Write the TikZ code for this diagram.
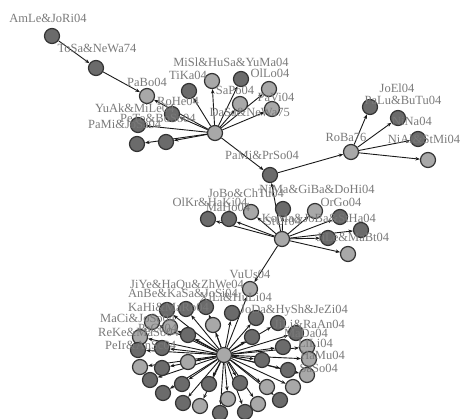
\documentclass[tikz,border=0pt]{standalone}
\usepackage{fontspec}
\setmainfont{Liberation Serif}
\usetikzlibrary{arrows.meta,backgrounds}
\definecolor{ndark}{gray}{0.42}
\definecolor{nlight}{gray}{0.66}
\definecolor{labc}{gray}{0.48}
\tikzset{
 nd/.style={circle,draw=black!80,line width=1.2pt,fill=ndark,minimum size=15pt,inner sep=0pt},
 nl/.style={nd,fill=nlight},
 lab/.style={text=labc,font=\fontsize{12.5}{13}\selectfont,inner sep=0pt},
 ed/.style={draw=black!90,line width=0.9pt,-{Stealth[length=4.5pt,width=3.5pt]}},
}
\begin{document}
\begin{tikzpicture}[x=1pt,y=-1pt]
\useasboundingbox (0,0) rectangle (469,419);
% ---- upper cluster
\node[nd] (a1) at (52,36) {};
\node[nd] (a2) at (96,68) {};
\node[nl] (a3) at (147,96) {};
\node[nl] (h1) at (215,133) {};
\node[nd] (t1) at (189,91) {};
\node[nl] (t2) at (212,81) {};
\node[nd] (t3) at (241,79) {};
\node[nl] (t4) at (240,104) {};
\node[nl] (t5) at (269,89) {};
\node[nl] (t6) at (272,109) {};
\node[nd] (t7) at (172,114) {};
\node[nd] (t8) at (138,125) {};
\node[nd] (t9) at (137,144) {};
\node[nd] (t10) at (166,142) {};
\node[nd] (p) at (270,175) {};
% ---- right cluster
\node[nl] (r) at (351,152) {};
\node[nd] (r1) at (370,107) {};
\node[nd] (r2) at (398,118) {};
\node[nd] (r3) at (418,139) {};
\node[nl] (r4) at (428,160) {};
% ---- middle cluster
\node[nl] (h2) at (282,239) {};
\node[nd] (s1) at (208,219) {};
\node[nd] (s2) at (229,219) {};
\node[nl] (s3) at (251,212) {};
\node[nd] (s4) at (283,209) {};
\node[nl] (s5) at (315,211) {};
\node[nd] (s6) at (340,217) {};
\node[nd] (s7) at (328,238) {};
\node[nd] (s8) at (361,230) {};
\node[nl] (s9) at (348,254) {};
\node[nl] (v) at (250,289) {};
% ---- lower cluster
\node[nl] (h3) at (224,355) {};
\foreach \x/\y/\c [count=\i] in {
 167/310/ndark, 186/309/ndark, 206/307/ndark, 232/313/ndark, 256/318/ndark,
 278/323/ndark, 296/333/ndark, 152/322/nlight, 170/327/nlight, 213/325/nlight,
 188/335/ndark, 252/337/ndark, 283/347/ndark, 307/347/nlight, 140/337/nlight,
 138/350/ndark, 162/348/ndark, 309/359/nlight, 262/360/ndark, 288/370/ndark,
 307/375/nlight, 140/367/nlight, 162/368/ndark, 188/362/nlight, 150/380/ndark,
 182/384/ndark, 209/384/ndark, 240/383/ndark, 267/387/nlight, 293/387/nlight,
 163/393/ndark, 183/403/ndark, 200/406/nlight, 228/399/nlight, 258/404/nlight,
 280/400/ndark, 220/413/ndark, 245/412/ndark}
 { \node[nd,fill=\c] (k\i) at (\x,\y) {}; }
\begin{pgfonlayer}{background}
 \draw[ed] (a1) -- (a2);
 \draw[ed] (a2) -- (a3);
 \draw[ed] (h1) -- (a3);
 \foreach \n in {t1,t2,t3,t4,t5,t6,t7,t8,t9,t10,p} \draw[ed] (h1) -- (\n);
 \draw[ed] (p) -- (r);
 \foreach \n in {r1,r2,r3,r4} \draw[ed] (r) -- (\n);
 \draw[ed] (h2) -- (p);
 \foreach \n in {s1,s2,s3,s4,s5,s6,s7,s8,s9} \draw[ed] (h2) -- (\n);
 \draw[ed] (h2) -- (v);
 \draw[ed] (h3) -- (v);
 \foreach \i in {1,...,38} \draw[ed] (h3) -- (k\i);
\end{pgfonlayer}
% ---- labels
\node[lab] (l1) at (48,18) {AmLe\&JoRi04};
\node[lab] (l2) at (97,48) {ToSa\&NeWa74};
\node[lab] (l3) at (147,82) {PaBo04};
\node[lab] (l4) at (231,62) {MiSl\&HuSa\&YuMa04};
\node[lab] (l6) at (188,75) {TiKa04};
\node[lab] (l7) at (270,73) {OlLo04};
\node[lab] (l8) at (235,90) {SaPo04};
\node[lab] (l9) at (276,97) {PaVi04};
\node[lab] (l10) at (178,101) {RoHe04};
\node[lab,anchor=west] (l11) at (95,108) {YuAk\&MiLe04};
\node[lab,anchor=east] (l12) at (290,112) {DaSa\&NeWa75};
\node[lab,anchor=west] (l13) at (120,118) {PeTo\&BoSo04};
\node[lab,anchor=west] (l14) at (88,124) {PaMi\&JoSa04};
\node[lab] (l15) at (262,155) {PaMi\&PrSo04};
\node[lab] (l16) at (346,137) {RoBa76};
\node[lab] (l17) at (397,88) {JoEl04};
\node[lab] (l18) at (403,100) {PaLu\&BuTu04};
\node[lab] (l19) at (412,121) {NiNa04};
\node[lab] (l20) at (424,139) {NiAl\&StMi04};
\node[lab] (l21) at (246,193) {JoBo\&ChTu04};
\node[lab] (l22) at (317,189) {NiMa\&GiBa\&DoHi04};
\node[lab] (l23) at (210,202) {OlKr\&HaKi04};
\node[lab] (l24) at (228,207) {MaHo04};
\node[lab] (l25) at (341,202) {OrGo04};
\node[lab] (l26) at (283,221) {StUr04};
\node[lab,anchor=east] (l27) at (376,218) {KoMa\&JoBa\&StHa04};
\node[lab] (l28) at (353,237) {JiLe\&MaBt04};
\node[lab] (l29) at (250,274) {VuUs04};
\node[lab,anchor=west] (l30) at (130,285) {JiYe\&HaQu\&ZhWe04};
\node[lab,anchor=west] (l31) at (128,293) {AnBe\&KaSa\&JoSi04};
\node[lab,anchor=east] (l32) at (272,297) {XiLi\&HuLi04};
\node[lab,anchor=west] (l33) at (128,307) {KaHi\&MaRo04};
\node[lab,anchor=east] (l34) at (348,311) {JoDa\&HySh\&JeZi04};
\node[lab,anchor=west] (l35) at (100,318) {MaCi\&JoSo04};
\node[lab,anchor=west] (l36) at (138,328) {PaCe04};
\node[lab,anchor=west] (l37) at (98,332) {ReKe\&MaSo04};
\node[lab,anchor=east] (l38) at (345,324) {JiLi\&RaAn04};
\node[lab,anchor=east] (l39) at (328,333) {MaDa04};
\node[lab,anchor=west] (l40) at (105,345) {PeIr\&AnSc04};
\node[lab,anchor=east] (l41) at (333,343) {LiLi04};
\node[lab,anchor=east] (l42) at (345,355) {HaMu04};
\node[lab,anchor=east] (l43) at (338,368) {SaSo04};
\end{tikzpicture}
\end{document}
